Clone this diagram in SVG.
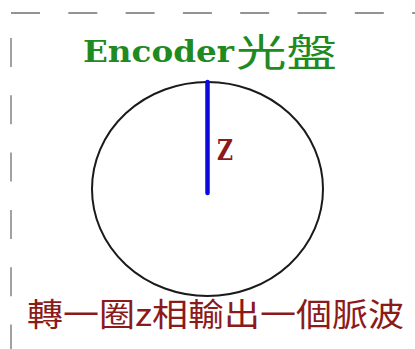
<svg xmlns="http://www.w3.org/2000/svg" width="415" height="349" viewBox="0 0 415 349">
  <style>
    .frame { stroke: #707070; stroke-width: 1.3; stroke-dasharray: 29 28.3; fill: none; }
    .title { fill: #1f8a1f; }
    .red { fill: #8b1a1a; }
    .slab { font-family: "DejaVu Serif", "Liberation Serif", serif; font-weight: bold; }
  </style>
  <rect width="415" height="349" fill="#fff"/>
  <g id="frame">
    <line class="frame" x1="11" y1="13" x2="415" y2="13"/>
    <line class="frame" x1="11" y1="38" x2="11" y2="349"/>
  </g>
  <g id="title">
    <text class="title slab" x="83" y="62" font-size="29" textLength="151" lengthAdjust="spacingAndGlyphs">Encoder</text>
    <text class="title" x="236" y="66" font-family="Noto Sans CJK TC, sans-serif" font-size="38" textLength="101" lengthAdjust="spacingAndGlyphs">光盤</text>
  </g>
  <g id="disc">
    <ellipse cx="207.5" cy="189" rx="115.5" ry="107" fill="none" stroke="#1a1a1a" stroke-width="2"/>
  </g>
  <g id="connectors">
    <line x1="207.5" y1="82" x2="207.5" y2="193" stroke="#0a0adc" stroke-width="4.5" stroke-linecap="round"/>
  </g>
  <g id="z-label">
    <text class="red slab" x="217" y="160" font-size="27" textLength="16" lengthAdjust="spacingAndGlyphs">Z</text>
  </g>
  <g id="caption">
    <text class="red" x="27" y="326" font-family="Noto Sans CJK TC, sans-serif" font-size="32" textLength="377" lengthAdjust="spacingAndGlyphs">轉一圈z相輸出一個脈波</text>
  </g>
</svg>
